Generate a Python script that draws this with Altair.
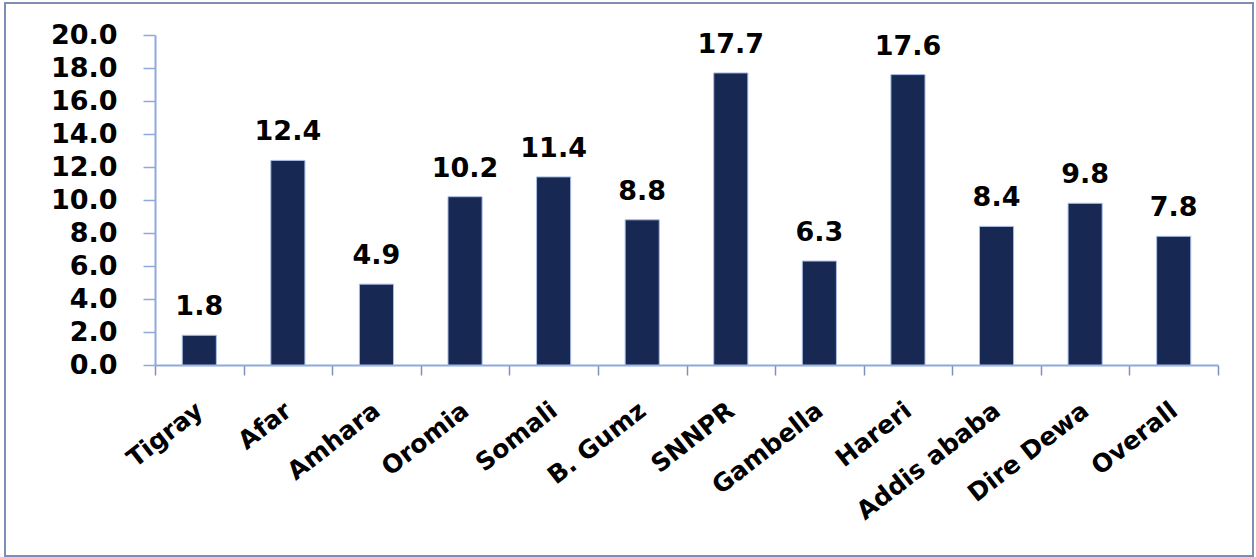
import altair as alt
import pandas as pd

regions = ["Tigray", "Afar", "Amhara", "Oromia", "Somali", "B. Gumz", "SNNPR",
           "Gambella", "Hareri", "Addis ababa", "Dire Dewa", "Overall"]
values = [1.8, 12.4, 4.9, 10.2, 11.4, 8.8, 17.7, 6.3, 17.6, 8.4, 9.8, 7.8]
y_ticks = [0, 2, 4, 6, 8, 10, 12, 14, 16, 18, 20]

df = pd.DataFrame({"region": regions, "value": values})

W, H = 1063, 330
FONT = "DejaVu Sans"
AXIS_COLOR = "#8eaadb"

x_enc = alt.X("region:N", sort=regions,
              scale=alt.Scale(paddingInner=0, paddingOuter=0),
              axis=alt.Axis(title=None, labelAngle=-38, labelFont=FONT, labelFontSize=25,
                            labelFontWeight="bold", labelColor="#000000", labelPadding=32,
                            tickBand="extent", tickSize=10, tickColor="#7f90b8",
                            domainColor=AXIS_COLOR, domainWidth=2, tickWidth=1.5,
                            labelAlign="right", labelBaseline="middle", labelOverlap=False))
y_enc = alt.Y("value:Q",
              scale=alt.Scale(domain=[0, 20], nice=False),
              axis=alt.Axis(title=None, values=y_ticks, format=".1f", labelFont=FONT,
                            labelFontSize=27, labelFontWeight="bold", labelColor="#000000",
                            tickSize=12, labelPadding=26, tickColor=AXIS_COLOR,
                            domainColor=AXIS_COLOR, domainWidth=2, tickWidth=1.5, grid=False,
                            labelOverlap=False, labelBaseline="middle"))

bars = alt.Chart(df).mark_bar(color="#172853", stroke="#a9bde8", strokeWidth=1,
                              width=alt.RelativeBandSize(0.385)).encode(
    x=x_enc, y=y_enc)

labels = alt.Chart(df).mark_text(font=FONT, fontSize=27, fontWeight="bold", color="#000000",
                                 baseline="alphabetic", dy=-20).encode(
    x=x_enc, y=y_enc, text=alt.Text("value:Q", format=".1f"))

border = alt.Chart(df).mark_rect(fill=None, stroke="#7f8db5", strokeWidth=2).encode(
    x=alt.value(-150), x2=alt.value(1098), y=alt.value(-32), y2=alt.value(521))

chart = alt.layer(bars, labels, border).properties(
    width=W, height=H,
    padding={"left": 155, "top": 35, "right": 38, "bottom": 192},
    autosize=alt.AutoSizeParams(type="none"),
    background="#ffffff",
).configure_view(stroke=None)

chart.save("out.html", embed_options={"renderer": "svg", "actions": False})
